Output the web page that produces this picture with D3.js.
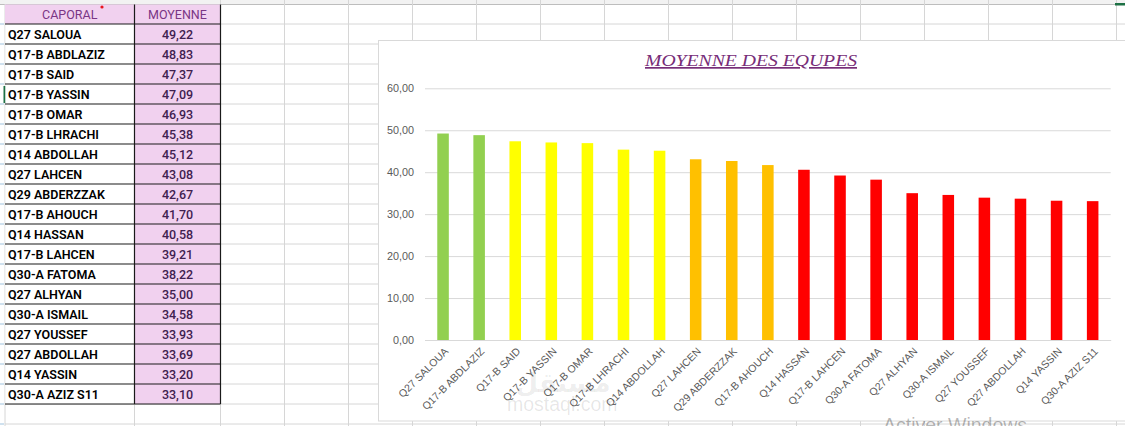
<!DOCTYPE html>
<html>
<head>
<meta charset="utf-8">
<script src="https://cdn.jsdelivr.net/npm/d3@7"></script>
<style>
  html, body { margin: 0; padding: 0; background: #fff; overflow: hidden; }
  svg { display: block; }
</style>
</head>
<body>
<div id="sheet"></div>
<script>
// data
const caporals = ["Q27 SALOUA", "Q17-B ABDLAZIZ", "Q17-B SAID", "Q17-B YASSIN", "Q17-B OMAR",
  "Q17-B LHRACHI", "Q14 ABDOLLAH", "Q27 LAHCEN", "Q29 ABDERZZAK", "Q17-B AHOUCH",
  "Q14 HASSAN", "Q17-B LAHCEN", "Q30-A FATOMA", "Q27 ALHYAN", "Q30-A ISMAIL",
  "Q27 YOUSSEF", "Q27 ABDOLLAH", "Q14 YASSIN", "Q30-A AZIZ S11"];
const moyennes = [49.22, 48.83, 47.37, 47.09, 46.93, 45.38, 45.12, 43.08, 42.67, 41.70,
  40.58, 39.21, 38.22, 35.00, 34.58, 33.93, 33.69, 33.20, 33.10];
const headers = ["CAPORAL", "MOYENNE"];
const yTicks = [0, 10, 20, 30, 40, 50, 60];
const chartTitle = "MOYENNE DES EQUPES";

const W = 1125, H = 426;
const fmt = v => d3.format(".2f")(v).replace(".", ",");

const svg = d3.select("#sheet").append("svg")
    .attr("width", W)
    .attr("height", H);

// ---- spreadsheet background ----
const gridColor = "#d6d6d6";
const rowTop = 24, rowH = 20;
const colA = 5, colB = 134.5, colC = 220.5;

svg.append("rect").attr("x", 0).attr("y", 0).attr("width", W).attr("height", 4)
    .attr("fill", "#f2f2f2");
svg.append("line").attr("x1", 0).attr("x2", W).attr("y1", 4.5).attr("y2", 4.5)
    .attr("stroke", "#bdbdbd");

// vertical grid lines of the empty columns
d3.range(0, 15).forEach(k => {
  const gx = colC + 64 * k;
  svg.append("line").attr("x1", gx).attr("x2", gx).attr("y1", 0).attr("y2", H)
      .attr("stroke", gridColor);
});
// horizontal grid lines
d3.range(0, 21).forEach(k => {
  const gy = rowTop + rowH * k;
  svg.append("line").attr("x1", colA).attr("x2", W).attr("y1", gy).attr("y2", gy)
      .attr("stroke", gridColor);
});
svg.append("line").attr("x1", colA).attr("x2", colA).attr("y1", 4).attr("y2", H)
    .attr("stroke", gridColor);
svg.append("line").attr("x1", colB).attr("x2", colB).attr("y1", 404).attr("y2", H)
    .attr("stroke", gridColor);

// small row marks in the row header strip
d3.range(0, 21).forEach(k => {
  svg.append("line").attr("x1", 0).attr("x2", 4).attr("y1", rowTop + rowH * k).attr("y2", rowTop + rowH * k)
      .attr("stroke", "#9fc3de");
});
svg.append("rect").attr("x", 3.5).attr("y", 86).attr("width", 2).attr("height", 17).attr("fill", "#1e7145");
svg.append("rect").attr("x", 1115).attr("y", 3).attr("width", 10).attr("height", 2.5).attr("fill", "#1e7145");

// ---- table ----
const table = svg.append("g");
const pink = "#f1d1ef";

table.append("rect").attr("x", colA).attr("y", 4.5).attr("width", colC - colA).attr("height", rowTop - 4.5)
    .attr("fill", pink);
table.append("rect").attr("x", colB).attr("y", rowTop).attr("width", colC - colB).attr("height", rowH * caporals.length)
    .attr("fill", pink);
table.append("rect").attr("x", colA + 0.5).attr("y", rowTop).attr("width", colB - colA - 0.5).attr("height", rowH * caporals.length)
    .attr("fill", "#fff");

table.selectAll("text.head").data(headers).join("text")
    .attr("class", "head")
    .attr("x", (d, i) => i === 0 ? (colA + colB) / 2 : (colB + colC) / 2)
    .attr("y", 18.5)
    .attr("text-anchor", "middle")
    .attr("font-family", "Roboto, 'Liberation Sans', sans-serif")
    .attr("font-size", "12.5px")
    .attr("fill", "#7a3585")
    .text(d => d);
table.append("circle").attr("cx", 102).attr("cy", 7).attr("r", 1.6).attr("fill", "#e8141c");

table.selectAll("text.name").data(caporals).join("text")
    .attr("class", "name")
    .attr("x", 8)
    .attr("y", (d, i) => rowTop + rowH * i + 15)
    .attr("font-family", "Roboto, 'Liberation Sans', sans-serif")
    .attr("font-weight", 600)
    .attr("font-size", "12.5px")
    .attr("fill", "#000")
    .text(d => d);

table.selectAll("text.val").data(moyennes).join("text")
    .attr("class", "val")
    .attr("x", (colB + colC) / 2)
    .attr("y", (d, i) => rowTop + rowH * i + 15)
    .attr("text-anchor", "middle")
    .attr("font-family", "Roboto, 'Liberation Sans', sans-serif")
    .attr("font-weight", 500)
    .attr("font-size", "12.5px")
    .attr("fill", "#3f2150")
    .text(d => fmt(d));

// table borders
const tb = table.append("g").attr("stroke", "#1a1a1a").attr("stroke-width", 1.2);
d3.range(0, caporals.length + 1).forEach(k => {
  tb.append("line").attr("x1", colA).attr("x2", colC).attr("y1", rowTop + rowH * k).attr("y2", rowTop + rowH * k);
});
tb.append("line").attr("x1", colB).attr("x2", colB).attr("y1", 4.5).attr("y2", rowTop + rowH * caporals.length);
tb.append("line").attr("x1", colC).attr("x2", colC).attr("y1", 4.5).attr("y2", rowTop + rowH * caporals.length);

// ---- chart ----
const chart = svg.append("g");
chart.append("rect")
    .attr("x", 378.5).attr("y", 40.5)
    .attr("width", 800).attr("height", 380.5)
    .attr("fill", "#fff")
    .attr("stroke", "#d9d9d9");

const plot = { left: 425, right: 1110.7, top: 88.3, bottom: 340 };

const x = d3.scaleBand()
    .domain(caporals)
    .range([plot.left, plot.right])
    .paddingInner(0.68)
    .paddingOuter(0.34);

const y = d3.scaleLinear()
    .domain([0, 60])
    .range([plot.bottom, plot.top]);

const color = d3.scaleThreshold()
    .domain([41, 44, 48])
    .range(["#ff0000", "#ffc000", "#ffff00", "#92d050"]);

const yAxis = chart.append("g")
    .attr("transform", `translate(${plot.left},0)`)
    .call(d3.axisLeft(y).tickValues(yTicks).tickSize(-(plot.right - plot.left)).tickPadding(11).tickFormat(fmt));
yAxis.select(".domain").remove();
yAxis.selectAll(".tick line").attr("stroke", "#d9d9d9");
yAxis.selectAll(".tick text")
    .attr("fill", "#595959")
    .attr("font-family", "'Liberation Sans', Arial, sans-serif")
    .attr("font-size", "10.8px");

chart.selectAll("rect.bar").data(moyennes).join("rect")
    .attr("class", "bar")
    .attr("x", (d, i) => x(caporals[i]))
    .attr("y", d => y(d))
    .attr("width", x.bandwidth())
    .attr("height", d => y(0) - y(d))
    .attr("fill", d => color(d));

const xAxis = chart.append("g")
    .attr("transform", `translate(0,${plot.bottom})`)
    .call(d3.axisBottom(x).tickSize(0).tickPadding(0));
xAxis.select(".domain").attr("stroke", "#d9d9d9");
xAxis.selectAll(".tick text")
    .attr("fill", "#595959")
    .attr("font-family", "'Liberation Sans', Arial, sans-serif")
    .attr("font-size", "10.5px")
    .attr("text-anchor", "end")
    .attr("dy", null)
    .attr("transform", "translate(6,12) rotate(-45)");

chart.append("text")
    .attr("x", 751)
    .attr("y", 66)
    .attr("text-anchor", "middle")
    .attr("font-family", "'Liberation Serif', 'DejaVu Serif', serif")
    .attr("font-style", "italic")
    .attr("font-size", "17px")
    .attr("fill", "#772d78")
    .attr("text-decoration", "underline")
    .attr("textLength", 212)
    .attr("lengthAdjust", "spacingAndGlyphs")
    .text(chartTitle);

// faint watermarks seen on the screenshot
svg.append("text")
    .attr("x", 563).attr("y", 392)
    .attr("text-anchor", "middle")
    .attr("font-family", "'DejaVu Sans', sans-serif")
    .attr("font-weight", "bold")
    .attr("font-size", "26px")
    .attr("fill", "#000").attr("fill-opacity", 0.08)
    .text("مستقل");
svg.append("text")
    .attr("x", 507).attr("y", 411)
    .attr("font-family", "'Liberation Sans', sans-serif")
    .attr("font-size", "19.5px")
    .attr("fill", "#000").attr("fill-opacity", 0.1)
    .text("mostaql.com");
svg.append("text")
    .attr("x", 883).attr("y", 432)
    .attr("font-family", "'Liberation Sans', sans-serif")
    .attr("font-size", "19.5px")
    .attr("fill", "#000").attr("fill-opacity", 0.28)
    .text("Activer Windows");
</script>
</body>
</html>
